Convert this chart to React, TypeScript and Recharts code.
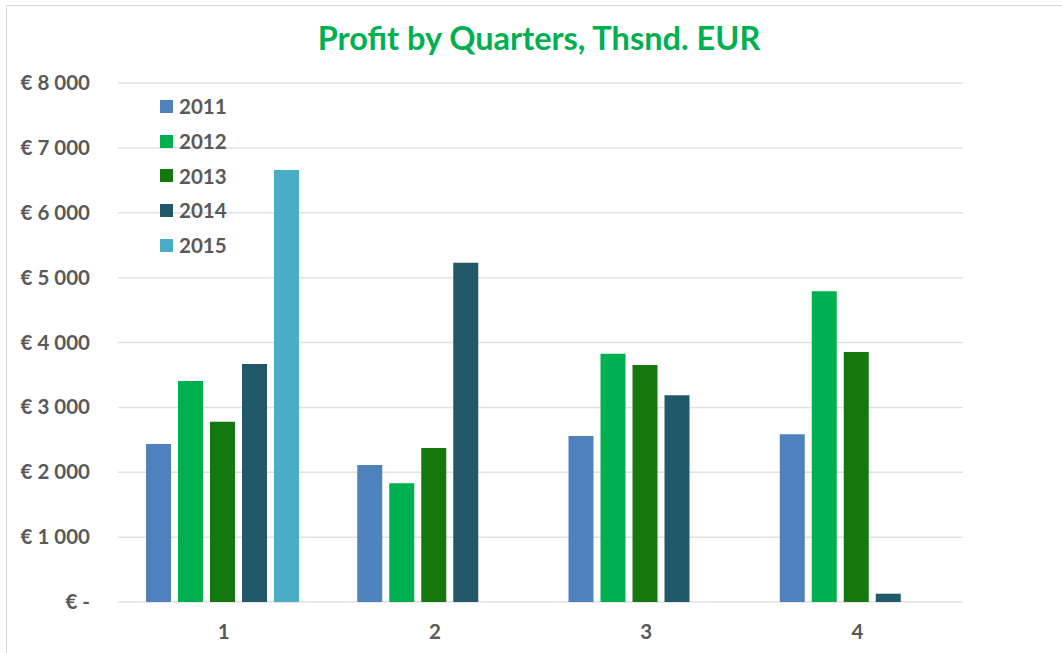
import React from 'react';
import { BarChart, Bar, XAxis, YAxis, CartesianGrid } from 'recharts';

const quarters = ['1', '2', '3', '4'];
const years = ['2011', '2012', '2013', '2014', '2015'];
const profit2011 = [2435, 2112, 2559, 2585];
const profit2012 = [3407, 1830, 3828, 4789];
const profit2013 = [2779, 2374, 3653, 3854];
const profit2014 = [3669, 5230, 3186, 128];
const profit2015 = [6659, null, null, null];
const yTicks = [0, 1000, 2000, 3000, 4000, 5000, 6000, 7000, 8000];

const COLORS = ['#4f81bd', '#00b050', '#15780f', '#215968', '#4bacc6'];
const TEXT = '#595959';
const FONT = 'Lato, "Open Sans", sans-serif';

const series = [profit2011, profit2012, profit2013, profit2014, profit2015];

const data = quarters.map((q, i) => {
    const row: { [key: string]: string | number | null } = { quarter: q };
    years.forEach((y, j) => {
        row[y] = series[j][i];
    });
    return row;
});

const euro = (v: number) => {
    if (v === 0) return '€ -';
    return '€ ' + String(v).replace(/\B(?=(\d{3})+(?!\d))/g, ' ');
};

const YTick = (props: any) => {
    const { y, payload } = props;
    return (
        <text x={90} y={y} dy={7} textAnchor="end" fill={TEXT} fontSize={20.5} fontWeight="bold" fontFamily={FONT}>
            {euro(payload.value)}
        </text>
    );
};

const XTick = (props: any) => {
    const { x, y, payload } = props;
    return (
        <text x={x} y={y} dy={29} textAnchor="middle" fill={TEXT} fontSize={20.5} fontWeight="bold" fontFamily={FONT}>
            {payload.value}
        </text>
    );
};

// legend sits inside the plot area, top-left, like the Excel original
const YearLegend = () => (
    <div style={{ position: 'absolute', left: 160, top: 89 }}>
        {years.map((y, i) => (
            <div key={y} style={{ display: 'flex', alignItems: 'center', height: 34.7 }}>
                <span style={{ width: 13, height: 13, background: COLORS[i], display: 'inline-block', marginRight: 6 }} />
                <span style={{ color: TEXT, fontSize: 20.5, fontWeight: 'bold', fontFamily: FONT }}>{y}</span>
            </div>
        ))}
    </div>
);

export default function App() {
    return (
        <div style={{ position: 'absolute', left: 0, top: 0, width: 1062, height: 653, overflow: 'hidden', background: '#fff' }}>
            <div style={{ position: 'absolute', left: 6, top: 5, width: 1200, height: 800, border: '1px solid #d9d9d9' }} />
            <div style={{
                position: 'absolute', left: 0, top: 18, width: 1078, textAlign: 'center',
                color: '#00b050', fontSize: 32.5, fontWeight: 'bold', fontFamily: FONT,
            }}>
                Profit by Quarters, Thsnd. EUR
            </div>
            <div style={{ position: 'absolute', left: 0, top: 0 }}>
                <BarChart
                    width={1062}
                    height={653}
                    data={data}
                    margin={{ top: 83, right: 99, bottom: 21, left: 0 }}
                    barCategoryGap={28}
                    barGap={7}
                >
                    <CartesianGrid vertical={false} stroke="#e0e0e0" strokeWidth={1.5} />
                    <XAxis dataKey="quarter" axisLine={false} tickLine={false} height={30} tick={<XTick />} />
                    <YAxis
                        width={118}
                        domain={[0, 8000]}
                        ticks={yTicks}
                        axisLine={false}
                        tickLine={false}
                        tick={<YTick />}
                        interval={0}
                    />
                    {years.map((y, i) => (
                        <Bar key={y} dataKey={y} fill={COLORS[i]} isAnimationActive={false} />
                    ))}
                </BarChart>
            </div>
            <YearLegend />
        </div>
    );
}
